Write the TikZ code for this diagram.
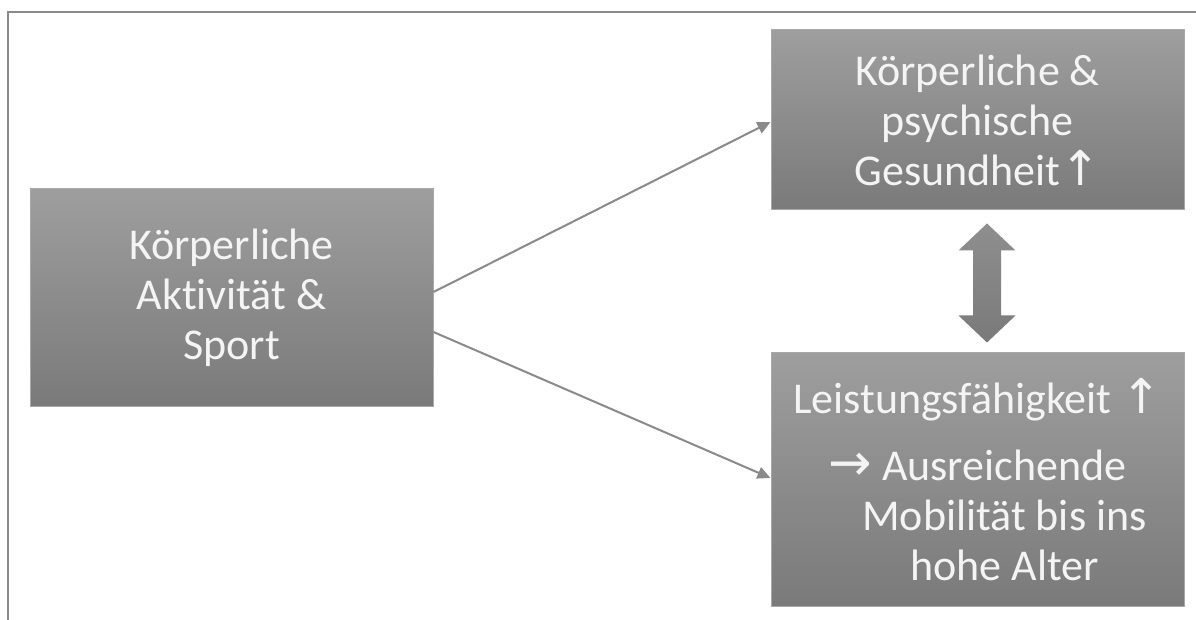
\documentclass[tikz,border=0pt]{standalone}
\usepackage{fontspec}
\setmainfont{Carlito}[Ligatures=NoCommon]
\newfontfamily\symfont{DejaVu Sans}
\usepackage{tikz}
\usetikzlibrary{arrows.meta,positioning}
\definecolor{boxtop}{HTML}{9E9E9E}
\definecolor{boxbot}{HTML}{7A7A7A}
\definecolor{boxedge}{HTML}{A8A8A8}
\definecolor{linegray}{HTML}{8A8A8A}
\definecolor{txtwhite}{HTML}{F4F4F4}

\begin{document}
\begin{tikzpicture}[x=0.5pt,y=-0.5pt,
  blk/.style={draw=boxedge,line width=0.5pt,top color=boxtop,bottom color=boxbot,
    text=txtwhite,align=center,inner sep=0pt,font=\fontsize{22}{25}\selectfont},
  arr/.style={-{Triangle[length=6.5pt,width=6pt]},line width=1pt,linegray},
  frm/.style={line width=1.2pt,draw=linegray}]
  \useasboundingbox[fill=white] (0,0) rectangle (1196,620);
  \draw[frm] (8,620) -- (8,12) -- (1196,12);
  \node[blk,minimum width=201.5pt,minimum height=109pt] (akt) at (231.5,298)
    {K\"orperliche\\Aktivit\"at \&\\Sport};
  \node[blk,minimum width=206.5pt,minimum height=90pt] (ges) at (977.5,120)
    {K\"orperliche \&\\psychische\\Gesundheit{\symfont\fontsize{24}{25}\selectfont ↑}};
  \node[blk,minimum width=206.5pt,minimum height=127pt,below=71pt of ges.south,anchor=north] (lei)
    {Leistungsf\"ahigkeit {\symfont\fontsize{24}{25}\selectfont ↑}\\[8.5pt]
     {\symfont\fontsize{26}{25}\selectfont →} Ausreichende\\
     \hspace*{27pt}Mobilit\"at bis ins\\
     \hspace*{27pt}hohe Alter};
  \draw[arr] ([yshift=3pt]akt.east) -- ([yshift=-1pt]ges.west);
  \draw[arr] ([yshift=-17pt]akt.east) -- ([yshift=1pt]lei.west);
  % Doppelpfeil zwischen den beiden Kaesten
  \coordinate (dt) at ([xshift=4.75pt,yshift=-6.5pt]ges.south);
  \coordinate (db) at ([xshift=4.75pt,yshift=5pt]lei.north);
  \path[top color=boxtop!90!black,bottom color=boxbot] (dt) -- ++(28.5,27) -- ++(-14.5,0) -- ++(0,65)
    -- ++(14.5,0) -- (db) -- ++(-28.5,-27) -- ++(14.5,0) -- ++(0,-65) -- ++(-14.5,0) -- cycle;
\end{tikzpicture}
\end{document}
